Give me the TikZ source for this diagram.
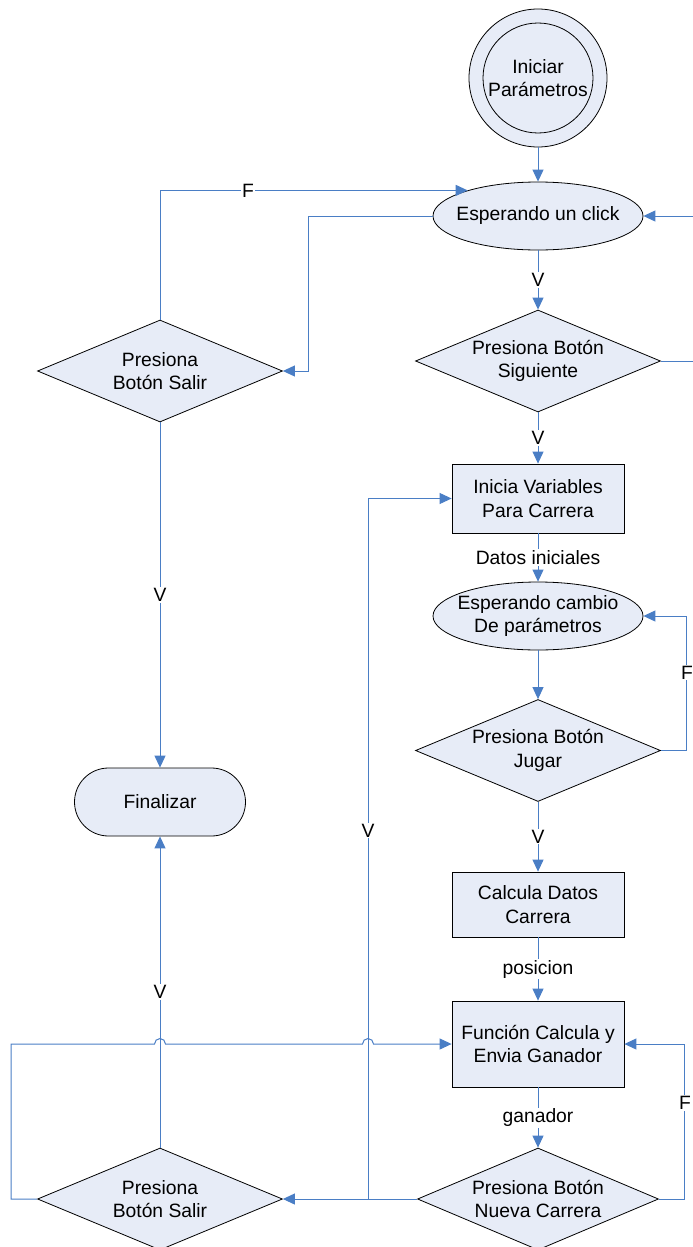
\documentclass[tikz,border=0pt]{standalone}
\usepackage{fontspec}
\setmainfont{Liberation Sans}
\usetikzlibrary{shapes.geometric}
\usetikzlibrary{arrows.meta}
\definecolor{boxfill}{RGB}{231,236,247}
\definecolor{linecolor}{RGB}{74,126,197}

\begin{document}
\begin{tikzpicture}[x=1pt, y=-1pt, font=\fontsize{19.3}{23.5}\selectfont,
    box/.style={draw, line width=0.8pt, fill=boxfill, minimum width=172pt, align=center, inner sep=0pt},
    decision/.style={diamond, draw, line width=0.8pt, fill=boxfill, aspect=2.4, minimum width=245pt, minimum height=102pt, inner sep=0pt, align=center},
    waitnode/.style={ellipse, draw, line width=0.8pt, fill=boxfill, minimum width=210pt, minimum height=68pt, inner sep=0pt},
    flow/.style={draw=linecolor, line width=1pt, -{Triangle[length=12pt, width=11pt]}},
    lbl/.style={fill=white, inner sep=1pt}]

    \useasboundingbox (0,0) rectangle (693,1247);
    \clip (0,0) rectangle (693,1247);

    % columna principal
    \node[circle, draw, line width=0.8pt, fill=boxfill, minimum size=138pt] (start) at (538,78) {};
    \node[circle, draw, line width=0.8pt, minimum size=110pt, inner sep=0pt, align=center] (startIn) at (start) {Iniciar\\Parámetros};
    \node[waitnode, label={[align=center]center:Esperando un click}] (wait) at (538,216) {};
    \node[decision] (next) at (538,361) {Presiona Botón\\Siguiente};
    \node[box, minimum height=69pt] (initVar) at (538,498.5) {Inicia Variables\\Para Carrera};
    \node[waitnode, label={[align=center]center:Esperando cambio\\De parámetros}] (change) at (538,616) {};
    \node[decision] (play) at (538,750.5) {Presiona Botón\\Jugar};
    \node[box, minimum height=65pt] (calc) at (538,904.5) {Calcula Datos\\Carrera};
    \node[box, minimum height=86pt] (func) at (538,1044) {Función Calcula y\\Envia Ganador};
    \node[decision, minimum width=241pt] (newRace) at (538,1199) {Presiona Botón\\Nueva Carrera};

    % columna izquierda
    \node[decision] (exit1) at (160,371) {Presiona\\Botón Salir};
    \node[draw, line width=0.8pt, fill=boxfill, rounded corners=34pt, minimum width=171pt, minimum height=68pt] (finish) at (160,802) {Finalizar};
    \node[decision] (exit2) at (160,1199) {Presiona\\Botón Salir};

    \coordinate (split) at (368,1199);
    \coordinate (jumpA) at (exit2.north |- func.west);
    \coordinate (jumpB) at (split |- func.west);

    \draw[flow] (start) -- (wait);
    \draw[flow] (wait) -- node[lbl]{V} (next);
    \draw[flow] (next) -- node[lbl]{V} (initVar);
    \draw[flow] (initVar) -- node[lbl]{Datos iniciales} (change);
    \draw[flow] (change) -- (play);
    \draw[flow] (play) -- node[lbl]{V} (calc);
    \draw[flow] (calc) -- node[lbl]{posicion} (func);
    \draw[flow] (func) -- node[lbl]{ganador} (newRace);

    % lazos
    \draw[flow] (exit1.north) |- node[lbl, pos=0.643]{F} (wait.160.6);
    \draw[flow] (wait.west) -- ++(-124,0) |- (exit1.east);
    \draw[flow] (next.east) -- ++(40,0) |- (wait.east);
    \draw[flow] (play.east) -- ++(26,0) |- node[lbl, pos=0.29]{F} (change.east);
    \draw[flow] (newRace.east) -- ++(26,0) |- node[lbl, pos=0.31]{F} (func.east);

    \draw[flow] (exit1) -- node[lbl]{V} (finish);
    \draw[flow] (exit2) -- node[lbl]{V} (finish);
    \draw[flow] (newRace.west) -- (exit2.east);
    \draw[flow] (split) |- node[lbl, pos=0.263]{V} (initVar.west);

    % salto sobre las lineas verticales
    \draw[flow] (exit2.west) -- ++(-26,0) |- ([xshift=-5.5pt]jumpA) arc[start angle=180, end angle=0, radius=5.5pt]
        -- ([xshift=-5.5pt]jumpB) arc[start angle=180, end angle=0, radius=5.5pt] -- (func.west);

\end{tikzpicture}
\end{document}
